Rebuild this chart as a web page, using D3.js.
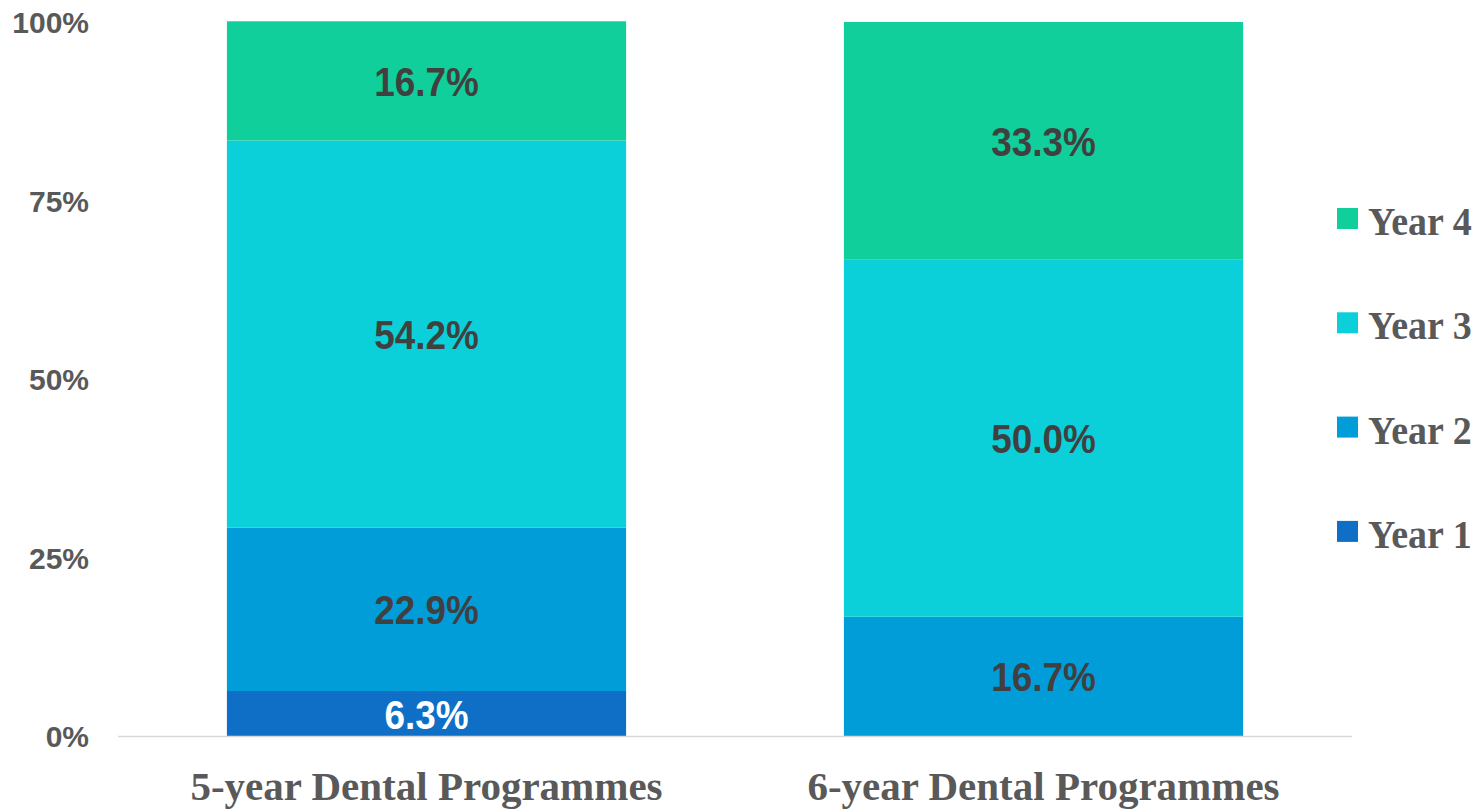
<!DOCTYPE html>
<html>
<head>
<meta charset="utf-8">
<script src="https://cdnjs.cloudflare.com/ajax/libs/d3/7.8.5/d3.min.js"></script>
<style>
  body { margin: 0; background: #fff; }
  svg { display: block; }
</style>
</head>
<body>
<svg width="1483" height="810"></svg>
<script>
// data
const programmes = ['5-year Dental Programmes', '6-year Dental Programmes'];
const years = ['Year 1', 'Year 2', 'Year 3', 'Year 4'];
const year1 = [6.3, 0];
const year2 = [22.9, 16.7];
const year3 = [54.2, 50.0];
const year4 = [16.7, 33.3];
const yTicks = [0, 25, 50, 75, 100];
const colors = ['#0f6fc6', '#009dd9', '#0bd0d9', '#10cf9b'];

const svg = d3.select('svg');
const width = +svg.attr('width');
const height = +svg.attr('height');

const margin = {top: 22, right: 131, bottom: 74, left: 118};
const innerWidth = width - margin.left - margin.right;
const innerHeight = height - margin.top - margin.bottom;

// rows for the stack
const rows = programmes.map((p, i) => ({
  programme: p,
  'Year 1': year1[i],
  'Year 2': year2[i],
  'Year 3': year3[i],
  'Year 4': year4[i]
}));

const series = d3.stack().keys(years)(rows);

const xScale = d3.scaleBand()
  .domain(programmes)
  .range([0, innerWidth])
  .paddingInner(0.353)
  .paddingOuter(0.1765);

const yScale = d3.scaleLinear()
  .domain([0, 100])
  .range([innerHeight, 0]);

const colorScale = d3.scaleOrdinal().domain(years).range(colors);

const g = svg.append('g')
  .attr('transform', `translate(${margin.left},${margin.top})`);

// y axis labels
const yAxisG = g.append('g').call(
  d3.axisLeft(yScale).tickValues(yTicks).tickSize(0).tickPadding(29)
    .tickFormat(d => d + '%'));
yAxisG.select('.domain').remove();
yAxisG.selectAll('text')
  .attr('fill', '#595959')
  .style('font-family', '"Liberation Sans", Arial, sans-serif')
  .style('font-weight', 'bold')
  .style('font-size', '30px')
  .attr('dy', '0.36em');

// bars
const layer = g.selectAll('.layer').data(series)
  .enter().append('g')
    .attr('class', 'layer')
    .attr('fill', d => colorScale(d.key));

layer.selectAll('rect').data(d => d)
  .enter().append('rect')
    .attr('x', d => xScale(d.data.programme))
    .attr('y', d => yScale(d[1]))
    .attr('width', xScale.bandwidth())
    .attr('height', d => yScale(d[0]) - yScale(d[1]));

// baseline
g.append('line')
  .attr('x1', 0).attr('x2', innerWidth)
  .attr('y1', yScale(0) + 0.5).attr('y2', yScale(0) + 0.5)
  .attr('stroke', '#d9d9d9')
  .attr('stroke-width', 1.5);

// data labels
series.forEach(s => {
  s.forEach(d => {
    const v = d[1] - d[0];
    if (v <= 0) return;
    const cx = xScale(d.data.programme) + xScale.bandwidth() / 2;
    const cy = (yScale(d[0]) + yScale(d[1])) / 2;
    g.append('text')
      .attr('transform', `translate(${cx},${cy + 15}) scale(0.9,1)`)
      .attr('text-anchor', 'middle')
      .attr('fill', s.key === 'Year 1' ? '#ffffff' : '#404040')
      .style('font-family', '"Liberation Sans", Arial, sans-serif')
      .style('font-weight', 'bold')
      .style('font-size', '41px')
      .text(v.toFixed(1) + '%');
  });
});

// x axis labels
const xAxisG = g.append('g')
  .attr('transform', `translate(0,${innerHeight})`)
  .call(d3.axisBottom(xScale).tickSize(0).tickPadding(0));
xAxisG.select('.domain').remove();
xAxisG.selectAll('text')
  .attr('y', 64)
  .attr('dy', 0)
  .attr('fill', '#595959')
  .style('font-family', '"Liberation Serif", "Times New Roman", serif')
  .style('font-weight', 'bold')
  .style('font-size', '41px');

// legend
const legend = svg.append('g')
  .attr('transform', 'translate(1337,208)');
const legendItems = years.slice().reverse();
const item = legend.selectAll('g').data(legendItems)
  .enter().append('g')
    .attr('transform', (d, i) => `translate(0,${i * 104.3})`);
item.append('rect')
  .attr('width', 21).attr('height', 21)
  .attr('fill', d => colorScale(d));
item.append('text')
  .attr('transform', 'translate(31,27) scale(0.95,1)')
  .attr('fill', '#595959')
  .style('font-family', '"Liberation Serif", "Times New Roman", serif')
  .style('font-weight', 'bold')
  .style('font-size', '40px')
  .text(d => d);
</script>
</body>
</html>
